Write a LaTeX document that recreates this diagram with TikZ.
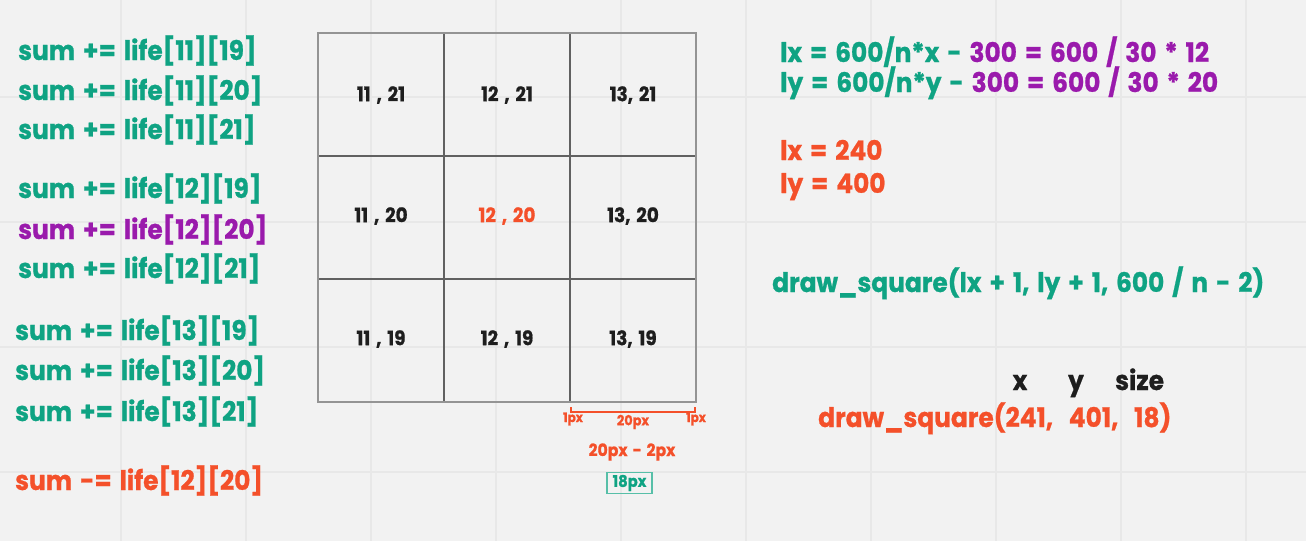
\documentclass[tikz,border=0pt]{standalone}
\usepackage{fontspec}
\setmainfont{Poppins}
\newfontfamily\hand{Poppins}[FakeStretch=0.92, WordSpace=1.5, BoldFeatures={FakeBold=0.8}]
\definecolor{bg}{HTML}{F2F2F2}
\definecolor{gridc}{HTML}{E8E8E8}
\definecolor{teal}{HTML}{0FA383}
\definecolor{purp}{HTML}{9A1AAC}
\definecolor{redo}{HTML}{F4502A}
\definecolor{ink}{HTML}{1E1E1E}
\tikzset{
  code/.style={anchor=base west, inner sep=0pt, font=\hand\bfseries\fontsize{27}{30}\selectfont},
  celllab/.style={inner sep=0pt, text=ink, font=\hand\bfseries\fontsize{20}{22}\selectfont},
  small/.style={inner sep=0pt, text=redo, font=\hand\bfseries\fontsize{14}{16}\selectfont},
}
\begin{document}
\begin{tikzpicture}[x=1pt,y=-1pt]
\fill[bg] (0,0) rectangle (1306,541);
\useasboundingbox (0,0) rectangle (1306,541);
% background grid
\foreach \x in {121,246,...,1246} \draw[gridc, line width=1.6pt] (\x,0) -- (\x,541);
\foreach \y in {97,222,347,472} \draw[gridc, line width=1.6pt] (0,\y) -- (1306,\y);
% 3x3 grid
\draw[black!62, line width=1.1pt] (444,33) -- (444,402) (570,33) -- (570,402) (318,156) -- (696,156) (318,279) -- (696,279);
\draw[black!42, line width=1.1pt] (318,33) rectangle (696,402);
\node[celllab] (a1) at (381,95) {11 , 21};
\node[celllab] (a2) at (507,95) {12 , 21};
\node[celllab] (a3) at (633,95) {13, 21};
\node[celllab] (b1) at (381,216) {11 , 20};
\node[celllab, text=redo] (b2) at (507,216) {12 , 20};
\node[celllab] (b3) at (633,216) {13, 20};
\node[celllab] (d1) at (381,339) {11 , 19};
\node[celllab] (d2) at (507,339) {12 , 19};
\node[celllab] (d3) at (633,339) {13, 19};
% left column
\node[code, text=teal] (l1) at (18,60) {sum += life[11][19]};
\node[code, text=teal] (l2) at (18,100) {sum += life[11][20]};
\node[code, text=teal] (l3) at (18,139) {sum += life[11][21]};
\node[code, text=teal] (l4) at (18,198) {sum += life[12][19]};
\node[code, text=purp] (l5) at (18,239) {sum += life[12][20]};
\node[code, text=teal] (l6) at (18,278) {sum += life[12][21]};
\node[code, text=teal] (l7) at (15,340) {sum += life[13][19]};
\node[code, text=teal] (l8) at (15,380) {sum += life[13][20]};
\node[code, text=teal] (l9) at (15,421) {sum += life[13][21]};
\node[code, text=redo] (l10) at (15,490) {sum -= life[12][20]};
% right column
\node[code] (r1) at (780,62) {\textcolor{teal}{lx = 600/n*x - }\textcolor{purp}{300 = 600 / 30 * 12}};
\node[code] (r2) at (780,92) {\textcolor{teal}{ly = 600/n*y - }\textcolor{purp}{300 = 600 / 30 * 20}};
\node[code, text=redo] (r3) at (780,160) {lx = 240};
\node[code, text=redo] (r4) at (780,193) {ly = 400};
\node[code, text=teal] (r5) at (772,292) {draw\_square(lx + 1, ly + 1, 600 / n - 2)};
\node[code, text=ink, anchor=base] (hx) at (1020,390) {x};
\node[code, text=ink, anchor=base] (hy) at (1076,390) {y};
\node[code, text=ink, anchor=base west] (hs) at (1115,390) {size};
\node[code, text=redo] (r6) at (818,427) {draw\_square(241,\ \ 401,\ \ 18)};
% measurement
\coordinate (m1) at (571,407);
\coordinate (m2) at (571,412);
\coordinate (m3) at (695,412);
\coordinate (m4) at (695,407);
\draw[redo, line width=1.2pt] (m1) -- (m2) -- (m3) -- (m4);
\node[small, font=\hand\bfseries\fontsize{13}{15}\selectfont] (p1) at (573,419) {1px};
\node[small, font=\hand\bfseries\fontsize{13}{15}\selectfont] (p2) at (696,419) {1px};
\node[small] (p3) at (633,422) {20px};
\node[small, font=\hand\bfseries\fontsize{17}{19}\selectfont] (p4) at (632,452) {20px - 2px};
\node[draw=teal!70, line width=1.2pt, text=teal, font=\hand\bfseries\fontsize{16}{18}\selectfont, minimum width=45pt, minimum height=21pt, inner sep=0pt] (p5) at (629.5,483) {18px};
\end{tikzpicture}
\end{document}
